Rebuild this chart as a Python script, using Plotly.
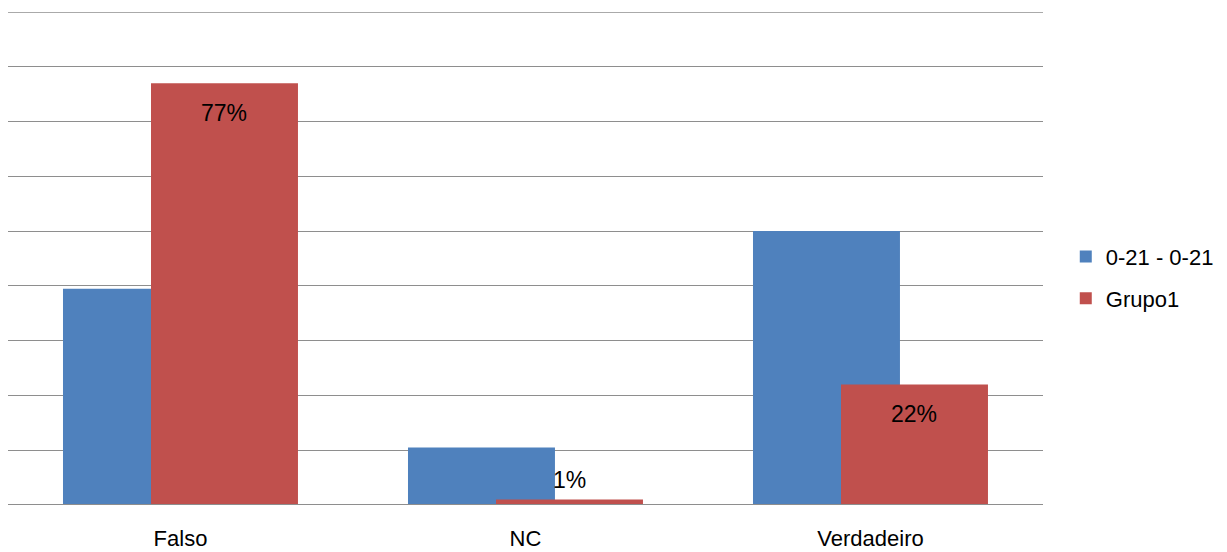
import plotly.graph_objects as go

categories = ["Falso", "NC", "Verdadeiro"]
serie_021 = [39.5, 10.5, 50.0]
grupo1 = [77, 1, 22]
grupo1_labels = ["77%", "1%", "22%"]
series_names = ["0-21 - 0-21", "Grupo1"]

BLUE = "#4F81BD"
RED = "#C0504D"
GRID = "#8E8E8E"
FONT = "Liberation Sans"
FS = 23
W = 0.426
OFF_BLUE = -0.3406
OFF_RED = -0.0855

fig = go.Figure()
fig.add_trace(go.Bar(
    x=categories, y=serie_021, name=series_names[0],
    marker=dict(color=BLUE, line=dict(width=0)),
    width=W, offset=OFF_BLUE, legendgroup="a", hoverinfo="skip",
))
fig.add_trace(go.Bar(
    x=categories, y=grupo1, name=series_names[1],
    marker=dict(color=RED, line=dict(width=0)),
    width=W, offset=OFF_RED, legendgroup="b", hoverinfo="skip",
))

red_center = OFF_RED + W / 2
for i, (v, lab) in enumerate(zip(grupo1, grupo1_labels)):
    if v < 5:
        fig.add_annotation(x=i + red_center, y=v, text=lab, showarrow=False,
                           yanchor="bottom", yshift=5,
                           font=dict(family=FONT, size=FS, color="black"))
    else:
        fig.add_annotation(x=i + red_center, y=v, text=lab, showarrow=False,
                           yanchor="top", yshift=-15,
                           font=dict(family=FONT, size=FS, color="black"))

fig.update_layout(
    width=1219, height=544,
    margin=dict(l=0, r=184, t=4, b=47),
    barmode="overlay",
    plot_bgcolor="white", paper_bgcolor="white",
    font=dict(family=FONT, size=FS, color="black"),
    showlegend=True,
    legend=dict(x=1.022, xanchor="left", y=0.461, yanchor="middle",
                traceorder="grouped", tracegroupgap=10,
                font=dict(family=FONT, size=22, color="black"),
                itemwidth=30, bgcolor="rgba(0,0,0,0)"),
    xaxis=dict(type="category", range=[-0.5, 2.5], showgrid=False,
               showline=False, ticks="", tickfont=dict(size=22),
               ticklabelstandoff=18, automargin=False),
    yaxis=dict(range=[0, 90], dtick=10, showgrid=True, gridcolor=GRID,
               gridwidth=1.3, showticklabels=False, ticks="", zeroline=False,
               showline=True, linecolor=GRID, linewidth=1.5, mirror=False,
               automargin=False),
)
fig.add_shape(type="line", xref="paper", yref="y", x0=0, x1=1, y0=0, y1=0,
              line=dict(color=GRID, width=2))
fig.add_shape(type="line", xref="paper", yref="y", x0=0, x1=1, y0=90, y1=90,
              line=dict(color=GRID, width=1.3), layer="below")
fig.write_html("out.html")
